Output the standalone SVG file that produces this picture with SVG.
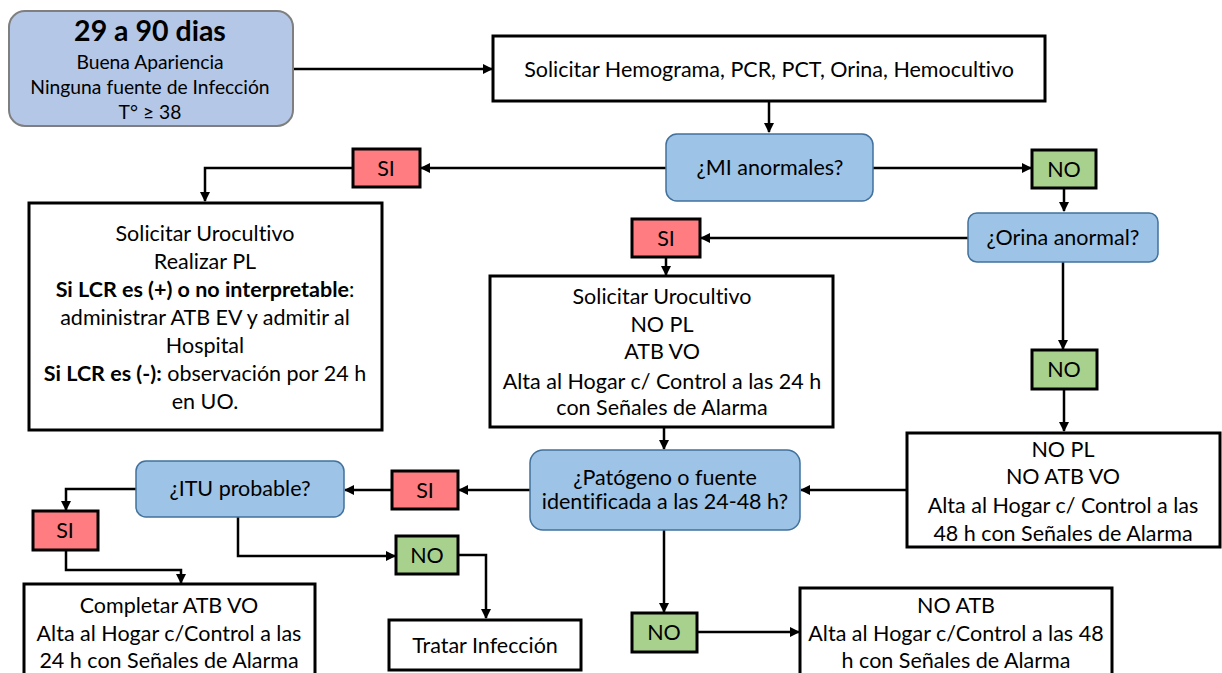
<svg xmlns="http://www.w3.org/2000/svg" width="1222" height="673" viewBox="0 0 1222 673">
  <defs>
    <marker id="arrow" viewBox="0 0 10 10" refX="9" refY="5" markerWidth="4" markerHeight="4" orient="auto" markerUnits="strokeWidth">
      <path d="M0,0 L10,5 L0,10 z" fill="#000"/>
    </marker>
    <style>
      text { font-family: Lato, "Open Sans", sans-serif; fill: #000; text-anchor: middle; font-variant-ligatures: none; }
      .t { font-size: 21.5px; }
      .b { font-weight: bold; }
      .box { fill: #fff; stroke: #000; stroke-width: 3; }
      .dec { fill: #9DC3E6; stroke: #41719C; stroke-width: 1.5; }
      .si { fill: #FF7C80; stroke: #000; stroke-width: 3; }
      .no { fill: #A9D18E; stroke: #000; stroke-width: 3; }
      .edge { fill: none; stroke: #000; stroke-width: 2.5; marker-end: url(#arrow); }
    </style>
  </defs>
  <rect width="1222" height="673" fill="#fff"/>

  <!-- connectors -->
  <g id="connectors">
    <path class="edge" d="M293,69 H492"/>
    <path class="edge" d="M769,101 V132"/>
    <path class="edge" d="M666,168 H421"/>
    <path class="edge" d="M353,168 H205 V201"/>
    <path class="edge" d="M873,168 H1031"/>
    <path class="edge" d="M1064,188 V211"/>
    <path class="edge" d="M968,238 H701"/>
    <path class="edge" d="M666,257 V275"/>
    <path class="edge" d="M1063,262 V349"/>
    <path class="edge" d="M1064,389 V431"/>
    <path class="edge" d="M664,427 V449"/>
    <path class="edge" d="M907,490 H801"/>
    <path class="edge" d="M530,490 H459"/>
    <path class="edge" d="M392,490 H345"/>
    <path class="edge" d="M136,489 H66 V510"/>
    <path class="edge" d="M66,550 V570 H181 V583"/>
    <path class="edge" d="M238,517 V556 H395"/>
    <path class="edge" d="M458,555 H486 V618"/>
    <path class="edge" d="M664,530 V612"/>
    <path class="edge" d="M697,632 H799"/>
  </g>

  <!-- start -->
  <g id="start">
    <rect x="9" y="11" width="284" height="115" rx="16" fill="#B4C7E7" stroke="#7F7F7F" stroke-width="2"/>
    <text x="150" y="41" font-size="28.5" class="b">29 a 90 dias</text>
    <text x="150" y="69" font-size="19.3">Buena Apariencia</text>
    <text x="150" y="94" font-size="19.3">Ninguna fuente de Infección</text>
    <text x="150" y="119" font-size="19.3">T° ≥ 38</text>
  </g>

  <g id="labs">
    <rect class="box" x="493" y="36" width="552" height="65"/>
    <text class="t" x="769" y="77">Solicitar Hemograma, PCR, PCT, Orina, Hemocultivo</text>
  </g>

  <g id="q-mi">
    <rect class="dec" x="666" y="134" width="207" height="67" rx="11"/>
    <text class="t" x="770" y="175">¿MI anormales?</text>
  </g>

  <g id="si-mi">
    <rect class="si" x="353" y="149" width="67" height="38"/>
    <text class="t" x="386" y="176">SI</text>
  </g>

  <g id="pl">
    <rect class="box" x="29" y="203" width="353" height="227"/>
    <text class="t" x="205" y="241">Solicitar Urocultivo</text>
    <text class="t" x="205" y="269">Realizar PL</text>
    <text class="t" x="205" y="297"><tspan class="b">Si LCR es (+) o no interpretable</tspan>:</text>
    <text class="t" x="205" y="325">administrar ATB EV y admitir al</text>
    <text class="t" x="205" y="353">Hospital</text>
    <text class="t" x="205" y="381"><tspan class="b">Si LCR es (-):</tspan> observación por 24 h</text>
    <text class="t" x="205" y="409">en UO.</text>
  </g>

  <g id="no-mi">
    <rect class="no" x="1032" y="150" width="64" height="38"/>
    <text class="t" x="1064" y="177">NO</text>
  </g>

  <g id="q-orina">
    <rect class="dec" x="968" y="213" width="190" height="49" rx="9"/>
    <text class="t" x="1063" y="245">¿Orina anormal?</text>
  </g>

  <g id="si-orina">
    <rect class="si" x="632" y="219" width="68" height="38"/>
    <text class="t" x="666" y="246">SI</text>
  </g>

  <g id="urocultivo">
    <rect class="box" x="490" y="276" width="343" height="151"/>
    <text class="t" x="662" y="304">Solicitar Urocultivo</text>
    <text class="t" x="662" y="332">NO PL</text>
    <text class="t" x="662" y="359">ATB VO</text>
    <text class="t" x="662" y="389">Alta al Hogar c/ Control a las 24 h</text>
    <text class="t" x="662" y="415">con Señales de Alarma</text>
  </g>

  <g id="no-orina">
    <rect class="no" x="1032" y="350" width="65" height="39"/>
    <text class="t" x="1064" y="377">NO</text>
  </g>

  <g id="no-pl">
    <rect class="box" x="907" y="433" width="313" height="114"/>
    <text class="t" x="1063" y="457">NO PL</text>
    <text class="t" x="1063" y="484">NO ATB VO</text>
    <text class="t" x="1063" y="513">Alta al Hogar c/ Control a las</text>
    <text class="t" x="1063" y="541">48 h con Señales de Alarma</text>
  </g>

  <g id="q-patogeno">
    <rect class="dec" x="530" y="450" width="270" height="80" rx="13"/>
    <text class="t" x="665" y="485">¿Patógeno o fuente</text>
    <text class="t" x="665" y="509">identificada a las 24-48 h?</text>
  </g>

  <g id="si-patogeno">
    <rect class="si" x="392" y="471" width="66" height="38"/>
    <text class="t" x="425" y="498">SI</text>
  </g>

  <g id="q-itu">
    <rect class="dec" x="136" y="461" width="208" height="56" rx="10"/>
    <text class="t" x="240" y="496">¿ITU probable?</text>
  </g>

  <g id="si-itu">
    <rect class="si" x="33" y="511" width="65" height="39"/>
    <text class="t" x="65" y="538">SI</text>
  </g>

  <g id="completar">
    <rect class="box" x="24" y="584" width="291" height="100"/>
    <text class="t" x="169" y="613">Completar ATB VO</text>
    <text class="t" x="169" y="641">Alta al Hogar c/Control a las</text>
    <text class="t" x="169" y="668">24 h con Señales de Alarma</text>
  </g>

  <g id="no-itu">
    <rect class="no" x="396" y="536" width="62" height="38"/>
    <text class="t" x="427" y="563">NO</text>
  </g>

  <g id="tratar">
    <rect class="box" x="389" y="620" width="192" height="50"/>
    <text class="t" x="485" y="653">Tratar Infección</text>
  </g>

  <g id="no-patogeno">
    <rect class="no" x="632" y="613" width="65" height="39"/>
    <text class="t" x="664" y="640">NO</text>
  </g>

  <g id="no-atb">
    <rect class="box" x="800" y="588" width="312" height="100"/>
    <text class="t" x="956" y="613">NO ATB</text>
    <text class="t" x="956" y="641">Alta al Hogar c/Control a las 48</text>
    <text class="t" x="956" y="668">h con Señales de Alarma</text>
  </g>
</svg>
